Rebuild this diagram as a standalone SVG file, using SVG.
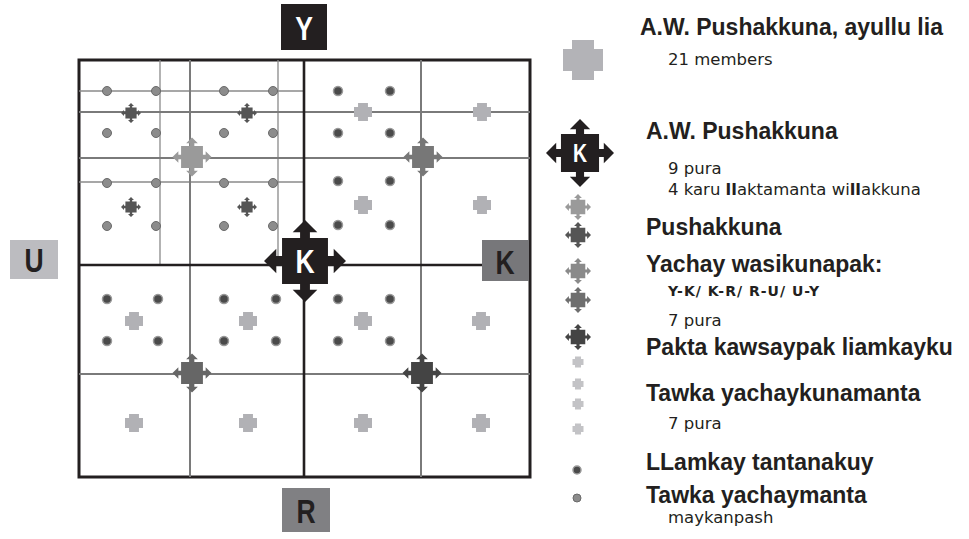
<svg xmlns="http://www.w3.org/2000/svg" xmlns:xlink="http://www.w3.org/1999/xlink" width="969" height="539" viewBox="0 0 969 539">
<style>
.h{font-family:"Liberation Sans",Arial,sans-serif;font-weight:bold;font-size:23px;fill:#231f20}
.s{font-family:"DejaVu Sans",sans-serif;font-size:16.5px;fill:#231f20}
.sb{font-family:"DejaVu Sans",sans-serif;font-weight:bold;font-size:14px;letter-spacing:1px;fill:#231f20}
.lab{font-family:"Liberation Sans",Arial,sans-serif;font-weight:bold;font-size:34px;text-anchor:middle}
.thin{stroke:#8a8a8a;stroke-width:1.3;fill:none}
.mid{stroke:#7a7a7a;stroke-width:2;fill:none}
.blk{stroke:#231f20;stroke-width:2.6;fill:none}
.dl{fill:#8c8c8c;stroke:#6a6a6a;stroke-width:1}
.dd{fill:#4a4a4a;stroke:#9a9a9a;stroke-width:1.5}
.lc{fill:#b1b1b5}
.kt{font-family:"Liberation Sans",Arial,sans-serif;font-weight:bold;fill:#fff;text-anchor:middle}
</style>
<defs>
<path id="ac" d="M0,-10 L3,-7 L1.2,-7 L1.2,-5.6 L5.6,-5.6 L5.6,-1.2 L7,-1.2 L7,-3 L10,0 L7,3 L7,1.2 L5.6,1.2 L5.6,5.6 L1.2,5.6 L1.2,7 L3,7 L0,10 L-3,7 L-1.2,7 L-1.2,5.6 L-5.6,5.6 L-5.6,1.2 L-7,1.2 L-7,3 L-10,0 L-7,-3 L-7,-1.2 L-5.6,-1.2 L-5.6,-5.6 L-1.2,-5.6 L-1.2,-7 L-3,-7 Z"/>
<path id="pc" d="M-5.5,-10 H5.5 V-5.5 H10 V5.5 H5.5 V10 H-5.5 V5.5 H-10 V-5.5 H-5.5 Z"/>
</defs>

<g id="grid">
<rect x="79" y="60" width="451" height="417" fill="#fff" stroke="#231f20" stroke-width="3"/>
<path class="thin" d="M160,60 V265 M278,60 V265 M79,91 H304 M79,182 H304"/>
<path class="mid" d="M79,112 H530 M79,158 H530 M79,374 H530 M190,60 V477 M421,60 V477"/>
<path class="blk" d="M304,60 V477 M79,265 H530"/>
</g>

<g id="dots-upper-left">
<circle class="dl" cx="107" cy="91" r="4.5"/><circle class="dl" cx="156" cy="91" r="4.5"/><circle class="dl" cx="224" cy="91" r="4.5"/><circle class="dl" cx="273" cy="91" r="4.5"/>
<circle class="dl" cx="107" cy="133" r="4.5"/><circle class="dl" cx="156" cy="133" r="4.5"/><circle class="dl" cx="224" cy="133" r="4.5"/><circle class="dl" cx="273" cy="133" r="4.5"/>
<circle class="dl" cx="107" cy="183" r="4.5"/><circle class="dl" cx="156" cy="183" r="4.5"/><circle class="dl" cx="224" cy="183" r="4.5"/><circle class="dl" cx="273" cy="183" r="4.5"/>
<circle class="dl" cx="107" cy="226" r="4.5"/><circle class="dl" cx="156" cy="226" r="4.5"/><circle class="dl" cx="224" cy="226" r="4.5"/><circle class="dl" cx="273" cy="226" r="4.5"/>
</g>
<g id="dots-dark">
<circle class="dd" cx="338" cy="91" r="4.5"/><circle class="dd" cx="390" cy="91" r="4.5"/>
<circle class="dd" cx="338" cy="133" r="4.5"/><circle class="dd" cx="390" cy="133" r="4.5"/>
<circle class="dd" cx="338" cy="181" r="4.5"/><circle class="dd" cx="390" cy="181" r="4.5"/>
<circle class="dd" cx="338" cy="225" r="4.5"/><circle class="dd" cx="390" cy="225" r="4.5"/>
<circle class="dd" cx="107" cy="299" r="4.5"/><circle class="dd" cx="158" cy="299" r="4.5"/><circle class="dd" cx="224" cy="299" r="4.5"/><circle class="dd" cx="276" cy="299" r="4.5"/><circle class="dd" cx="338" cy="299" r="4.5"/><circle class="dd" cx="390" cy="299" r="4.5"/>
<circle class="dd" cx="107" cy="341" r="4.5"/><circle class="dd" cx="158" cy="341" r="4.5"/><circle class="dd" cx="224" cy="341" r="4.5"/><circle class="dd" cx="276" cy="341" r="4.5"/><circle class="dd" cx="338" cy="341" r="4.5"/><circle class="dd" cx="390" cy="341" r="4.5"/>
</g>
<g id="light-crosses">
<use href="#pc" class="lc" transform="translate(363,112) scale(0.9)"/>
<use href="#pc" class="lc" transform="translate(482,112) scale(0.9)"/>
<use href="#pc" class="lc" transform="translate(363,205) scale(0.9)"/>
<use href="#pc" class="lc" transform="translate(482,205) scale(0.9)"/>
<use href="#pc" class="lc" transform="translate(134,321) scale(0.9)"/>
<use href="#pc" class="lc" transform="translate(248,321) scale(0.9)"/>
<use href="#pc" class="lc" transform="translate(363,321) scale(0.9)"/>
<use href="#pc" class="lc" transform="translate(481,321) scale(0.9)"/>
<use href="#pc" class="lc" transform="translate(134,423) scale(0.9)"/>
<use href="#pc" class="lc" transform="translate(248,423) scale(0.9)"/>
<use href="#pc" class="lc" transform="translate(363,423) scale(0.9)"/>
<use href="#pc" class="lc" transform="translate(481,423) scale(0.9)"/>
</g>
<g id="small-arrow-crosses">
<use href="#ac" fill="#555" transform="translate(131,113) scale(1.0)"/>
<use href="#ac" fill="#555" transform="translate(247,113) scale(1.0)"/>
<use href="#ac" fill="#555" transform="translate(131,207) scale(1.0)"/>
<use href="#ac" fill="#555" transform="translate(247,207) scale(1.0)"/>
</g>
<g id="medium-arrow-crosses">
<use href="#ac" fill="#9a9a9a" transform="translate(192,157) scale(1.95)"/>
<use href="#ac" fill="#777" transform="translate(423,157) scale(1.95)"/>
<use href="#ac" fill="#666" transform="translate(192,373) scale(1.95)"/>
<use href="#ac" fill="#444" transform="translate(422,373) scale(1.95)"/>
</g>
<g id="center-K">
<use href="#ac" fill="#231f20" transform="translate(305,261) scale(4.1)"/>
<text class="kt" transform="translate(305,273) scale(0.78,1)" font-size="34">K</text>
</g>

<g id="label-Y"><rect x="281" y="4" width="46" height="46" fill="#231f20"/><text class="lab" transform="translate(304,40) scale(0.78,1)" fill="#fff">Y</text></g>
<g id="label-U"><rect x="10" y="240" width="48" height="39" fill="#bcbcc0"/><text class="lab" transform="translate(34,272) scale(0.78,1)" fill="#231f20">U</text></g>
<g id="label-K"><rect x="482" y="240" width="47" height="41" fill="#77777a"/><text class="lab" transform="translate(505,274) scale(0.78,1)" fill="#231f20">K</text></g>
<g id="label-R"><rect x="282" y="488" width="48" height="44" fill="#808083"/><text class="lab" transform="translate(306,523) scale(0.78,1)" fill="#231f20">R</text></g>

<g id="legend">
<use href="#pc" fill="#b3b3b7" transform="translate(583,60) scale(2)"/>
<text class="h" x="640" y="35">A.W. Pushakkuna, ayullu lia</text>
<text class="s" x="668" y="65">21 members</text>

<use href="#ac" fill="#231f20" transform="translate(580,153) scale(3.4)"/>
<text class="kt" transform="translate(580,162) scale(0.78,1)" font-size="25">K</text>
<text class="h" x="646" y="139">A.W. Pushakkuna</text>
<text class="s" x="668" y="174">9 pura</text>
<text class="s" x="668" y="195">4 karu <tspan font-weight="bold">ll</tspan>aktamanta wi<tspan font-weight="bold">ll</tspan>akkuna</text>

<use href="#ac" fill="#9a9a9a" transform="translate(578,207) scale(1.3)"/>
<use href="#ac" fill="#555" transform="translate(578,235) scale(1.3)"/>
<text class="h" x="646" y="235">Pushakkuna</text>

<use href="#ac" fill="#8a8a8a" transform="translate(578,271) scale(1.3)"/>
<use href="#ac" fill="#6e6e6e" transform="translate(578,300) scale(1.3)"/>
<use href="#ac" fill="#444" transform="translate(578,337) scale(1.3)"/>
<text class="h" x="646" y="272">Yachay wasikunapak:</text>
<text class="sb" x="668" y="296">Y-K/ K-R/ R-U/ U-Y</text>
<text class="s" x="668" y="326">7 pura</text>

<use href="#pc" fill="#c3c3c6" transform="translate(578,362) scale(0.55)"/>
<use href="#pc" fill="#c3c3c6" transform="translate(578,384) scale(0.55)"/>
<use href="#pc" fill="#c3c3c6" transform="translate(578,404) scale(0.55)"/>
<use href="#pc" fill="#c3c3c6" transform="translate(578,429) scale(0.55)"/>
<text class="h" x="646" y="355">Pakta kawsaypak liamkayku</text>
<text class="h" x="646" y="401">Tawka yachaykunamanta</text>
<text class="s" x="668" y="429">7 pura</text>

<circle class="dd" cx="577" cy="470" r="4"/>
<text class="h" x="646" y="470">LLamkay tantanakuy</text>
<circle class="dl" cx="577" cy="498" r="4"/>
<text class="h" x="646" y="503">Tawka yachaymanta</text>
<text class="s" x="668" y="523">maykanpash</text>
</g>
</svg>
